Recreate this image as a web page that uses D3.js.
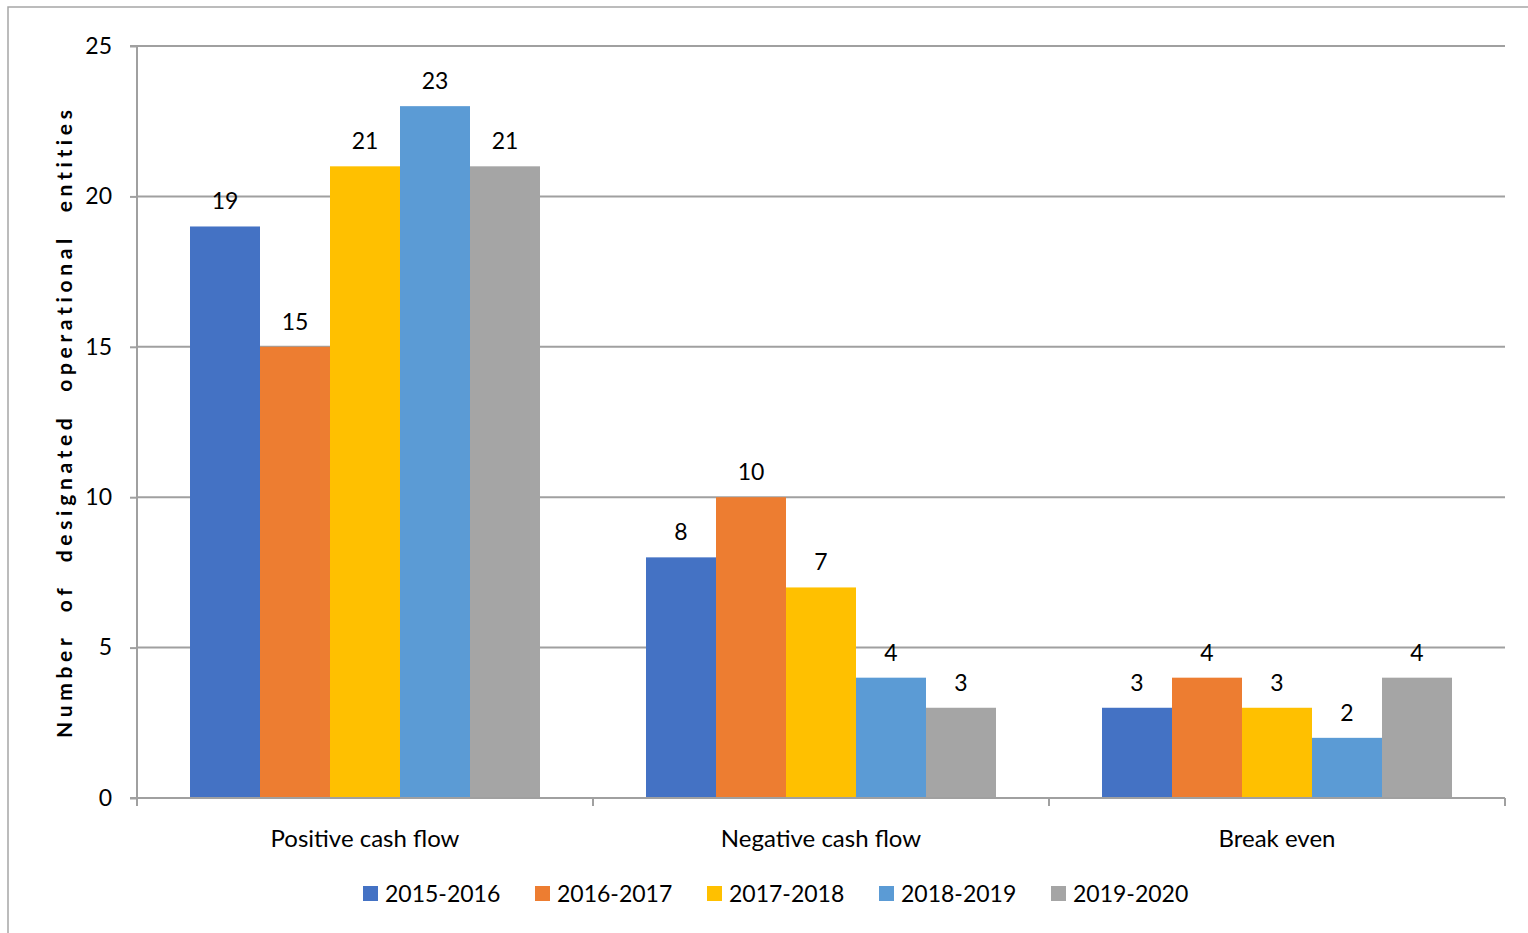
<!DOCTYPE html>
<html><head><meta charset="utf-8">
<script src="https://cdn.jsdelivr.net/npm/d3@7"></script>
<style>body{margin:0;background:#fff;} text{font-family:Lato,"Open Sans",sans-serif;}</style>
</head><body>
<svg id="c" width="1528" height="933"></svg>
<script>
const categories = ["Positive cash flow", "Negative cash flow", "Break even"];
const seriesNames = ["2015-2016", "2016-2017", "2017-2018", "2018-2019", "2019-2020"];
const values2015 = [19, 8, 3];
const values2016 = [15, 10, 4];
const values2017 = [21, 7, 3];
const values2018 = [23, 4, 2];
const values2019 = [21, 3, 4];
const yTicks = [0, 5, 10, 15, 20, 25];
const colors = ["#4472C4", "#ED7D31", "#FFC000", "#5B9BD5", "#A5A5A5"];
const allValues = [values2015, values2016, values2017, values2018, values2019];

const svg = d3.select("#c");
svg.append("rect").attr("x", 8).attr("y", 7).attr("width", 1600).attr("height", 1000)
  .attr("fill", "#fff").attr("stroke", "#a6a6a6").attr("stroke-width", 1.5);

const L = 137, R = 1505, T = 46, B = 798;
const y = d3.scaleLinear().domain([0, 25]).range([B, T]);
const x0 = d3.scaleBand().domain(categories).range([L, R]).paddingInner(0).paddingOuter(0);
const x1 = d3.scaleBand().domain(seriesNames).range([53, x0.bandwidth() - 53]);

// gridlines
svg.append("g").selectAll("line").data(yTicks.filter(d => d > 0)).join("line")
  .attr("x1", L).attr("x2", R).attr("y1", d => y(d)).attr("y2", d => y(d))
  .attr("stroke", "#a0a0a0").attr("stroke-width", 2);

// bars
const g = svg.append("g");
categories.forEach((c, ci) => {
  seriesNames.forEach((s, si) => {
    const v = allValues[si][ci];
    g.append("rect").attr("x", x0(c) + x1(s)).attr("width", x1.bandwidth())
      .attr("y", y(v)).attr("height", y(0) - y(v)).attr("fill", colors[si]);
    g.append("text").attr("x", x0(c) + x1(s) + x1.bandwidth() / 2).attr("y", y(v) - 17)
      .attr("text-anchor", "middle").attr("font-size", 23).attr("fill", "#000").text(v);
  });
});

// y axis
const yAxis = d3.axisLeft(y).tickValues(yTicks).tickSize(7).tickPadding(18);
const ya = svg.append("g").attr("transform", `translate(${L},0)`).call(yAxis);
ya.select(".domain").attr("stroke", "#a0a0a0").attr("stroke-width", 2).attr("d", `M-7,${T}H0V${B}`);
ya.selectAll(".tick line").attr("stroke", "#a0a0a0").attr("stroke-width", 2);
ya.selectAll(".tick text").attr("font-size", 23).attr("fill", "#000").attr("font-family", "Lato");

// x axis
const xa = svg.append("g");
xa.append("line").attr("x1", L - 7).attr("x2", R).attr("y1", B).attr("y2", B).attr("stroke", "#a0a0a0").attr("stroke-width", 2);
const bounds = categories.map(c => x0(c)).concat([R]);
xa.selectAll("line.t").data(bounds).join("line").attr("class", "t")
  .attr("x1", d => d).attr("x2", d => d).attr("y1", B).attr("y2", B + 8)
  .attr("stroke", "#a0a0a0").attr("stroke-width", 2);
xa.selectAll("text").data(categories).join("text")
  .attr("x", d => x0(d) + x0.bandwidth() / 2).attr("y", 847)
  .attr("text-anchor", "middle").attr("font-size", 24).attr("fill", "#000").text(d => d);

// y title
svg.append("text").attr("transform", "translate(72,423) rotate(-90)")
  .attr("text-anchor", "middle").attr("font-size", 21).attr("font-weight", "bold")
  .attr("letter-spacing", 2).attr("word-spacing", 12)
  .attr("textLength", 630).attr("lengthAdjust", "spacing")
  .attr("fill", "#000").text("Number of designated operational entities");

// legend
const lg = svg.append("g");
seriesNames.forEach((s, i) => {
  const lx = 363 + i * 172;
  lg.append("rect").attr("x", lx).attr("y", 886).attr("width", 15).attr("height", 15).attr("fill", colors[i]);
  lg.append("text").attr("x", lx + 22).attr("y", 902).attr("font-size", 23).attr("fill", "#000").text(s);
});
</script>
</body></html>
